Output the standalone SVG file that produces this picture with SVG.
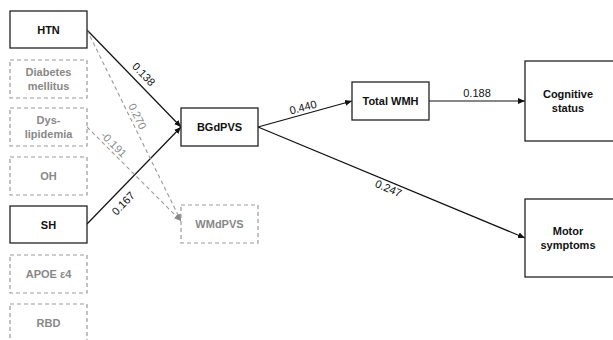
<svg xmlns="http://www.w3.org/2000/svg" width="613" height="340" viewBox="0 0 613 340">
<defs>
<marker id="ab" markerWidth="8" markerHeight="8" refX="7" refY="4" orient="auto" markerUnits="userSpaceOnUse"><path d="M0,1 L7,4 L0,7 Z" fill="#111"/></marker>
<marker id="ag" markerWidth="8" markerHeight="8" refX="7" refY="4" orient="auto" markerUnits="userSpaceOnUse"><path d="M0,1 L7,4 L0,7 Z" fill="#888"/></marker>
</defs>
<style>
.n{fill:#fff;stroke:#222;stroke-width:1.3}
.d{fill:#fff;stroke:#999;stroke-width:1.2;stroke-dasharray:4 3}
.t{font-family:"Liberation Sans",Arial,sans-serif;font-size:11px;font-weight:bold;fill:#111;text-anchor:middle}
.tg{font-family:"Liberation Sans",Arial,sans-serif;font-size:11px;font-weight:bold;fill:#888;text-anchor:middle}
.c{stroke:#111;stroke-width:1.2;fill:none;marker-end:url(#ab)}
.cd{stroke:#999;stroke-width:1.1;fill:none;stroke-dasharray:4 3;marker-end:url(#ag)}
.l{font-family:"Liberation Sans",Arial,sans-serif;font-size:11px;fill:#111;text-anchor:middle}
.lg{font-family:"Liberation Sans",Arial,sans-serif;font-size:11px;fill:#888;text-anchor:middle}
</style>
<rect width="613" height="340" fill="#fff"/>
<g id="connectors">
<line class="c" x1="87" y1="30" x2="181" y2="127"/>
<line class="c" x1="87" y1="224" x2="181" y2="127"/>
<line class="cd" x1="87" y1="30" x2="181" y2="221"/>
<line class="cd" x1="87" y1="127" x2="181" y2="221"/>
<line class="c" x1="258" y1="127" x2="352" y2="101"/>
<line class="c" x1="429" y1="101" x2="525" y2="101"/>
<line class="c" x1="258" y1="127" x2="525" y2="238"/>
<text class="l" transform="translate(141,77) rotate(46)">0.138</text>
<text class="lg" transform="translate(134,118) rotate(64)">0.270</text>
<text class="lg" transform="translate(111,147) rotate(45)">-0.191</text>
<text class="l" transform="translate(126,206) rotate(-46)">0.167</text>
<text class="l" transform="translate(304,111) rotate(-15)">0.440</text>
<text class="l" x="477" y="97">0.188</text>
<text class="l" transform="translate(387,192) rotate(23)">0.247</text>
</g>
<g id="htn"><rect class="n" x="10" y="11" width="77" height="37"/><text class="t" x="48.5" y="33.5">HTN</text></g>
<g id="diabetes"><rect class="d" x="10" y="60" width="77" height="38"/><text class="tg" x="48.5" y="76">Diabetes</text><text class="tg" x="48.5" y="90">mellitus</text></g>
<g id="dyslipidemia"><rect class="d" x="10" y="108" width="77" height="38"/><text class="tg" x="48.5" y="124">Dys-</text><text class="tg" x="48.5" y="138">lipidemia</text></g>
<g id="oh"><rect class="d" x="10" y="157" width="77" height="38"/><text class="tg" x="48.5" y="180">OH</text></g>
<g id="sh"><rect class="n" x="10" y="206" width="77" height="37"/><text class="t" x="48.5" y="228.5">SH</text></g>
<g id="apoe"><rect class="d" x="10" y="255" width="77" height="38"/><text class="tg" x="48.5" y="278">APOE ε4</text></g>
<g id="rbd"><rect class="d" x="10" y="304" width="77" height="38"/><text class="tg" x="48.5" y="327">RBD</text></g>
<g id="bgdpvs"><rect class="n" x="181" y="108" width="77" height="38"/><text class="t" x="219.5" y="131">BGdPVS</text></g>
<g id="wmdpvs"><rect class="d" x="181" y="205" width="77" height="38"/><text class="tg" x="219.5" y="228">WMdPVS</text></g>
<g id="totalwmh"><rect class="n" x="352" y="82" width="77" height="38"/><text class="t" x="390.5" y="105">Total WMH</text></g>
<g id="cognitive"><rect class="n" x="525" y="61" width="92" height="80"/><text class="t" x="568" y="98">Cognitive</text><text class="t" x="568" y="112">status</text></g>
<g id="motor"><rect class="n" x="525" y="199" width="92" height="78"/><text class="t" x="568" y="235">Motor</text><text class="t" x="568" y="249">symptoms</text></g>
</svg>
